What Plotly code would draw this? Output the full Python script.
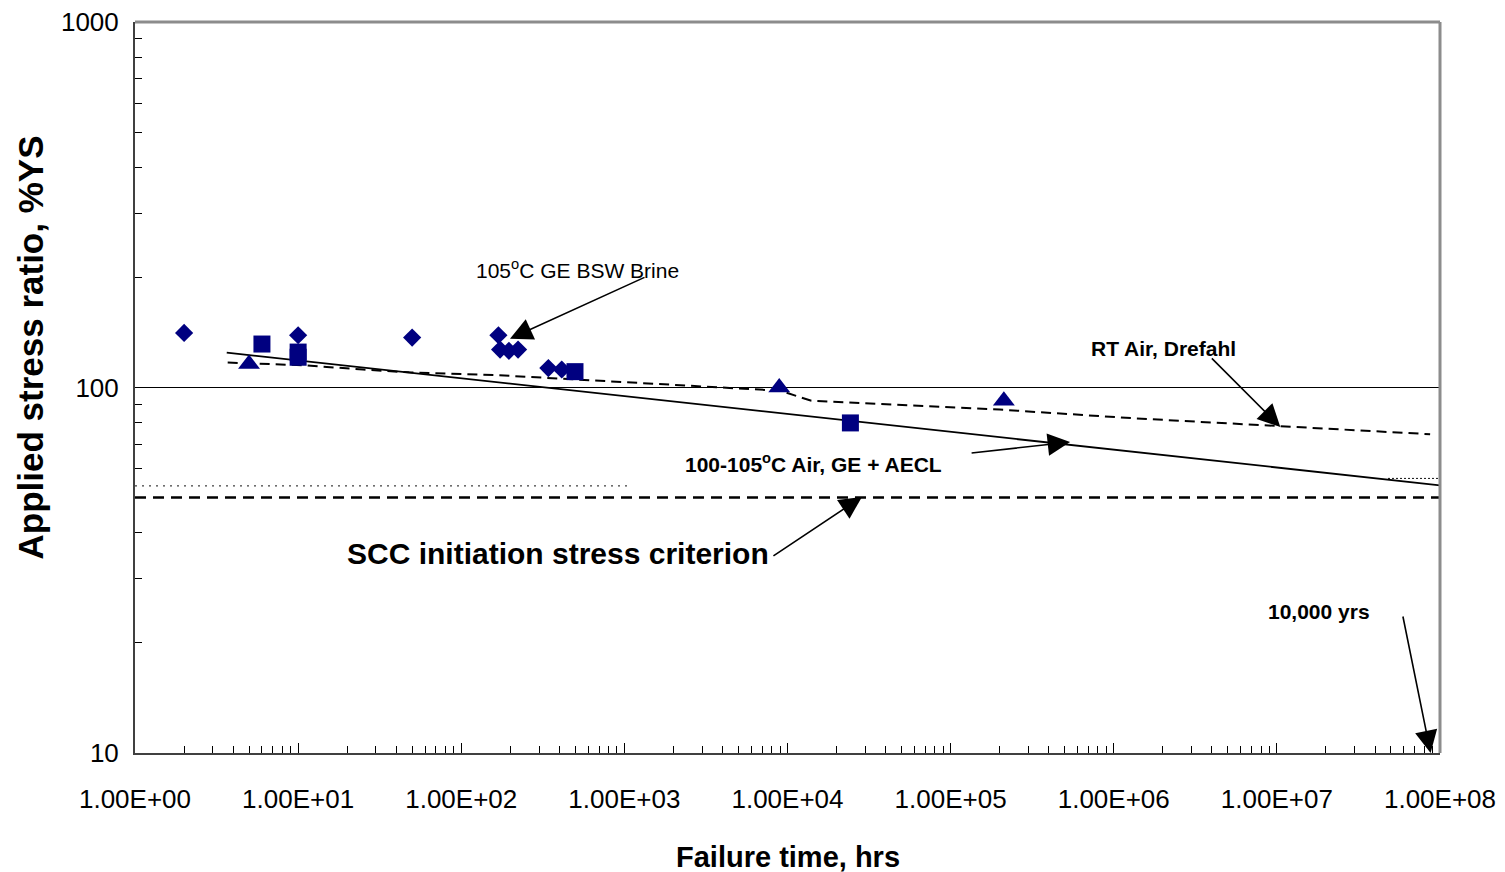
import math
import plotly.graph_objects as go

# ---- data -----------------------------------------------------------------
# 105 C GE BSW brine tests (diamonds)
brine_t = [2, 10, 50, 169, 173, 196, 223, 342, 413]
brine_y = [141, 139, 137, 139, 127, 126, 127, 113, 112]

# GE air tests (squares)
ge_air_t = [6, 10, 10, 498, 24300]
ge_air_y = [131.5, 125, 121, 110.5, 80]

# AECL air tests (triangles)
aecl_air_t = [5, 8900, 212000]
aecl_air_y = [116, 100, 92]

# 100-105 C air fit, GE + AECL (power-law line)
fit_t = [3.65, 1e8]
fit_y = [124.5, 54]

# RT air curve, Drefahl
rt_t = [3.7, 11, 25, 48, 170, 1100, 9000, 14000, 2.0e5, 1.31e6, 1.05e7, 8.7e7]
rt_y = [117, 115, 112, 110, 108, 103, 98, 92, 87, 82.4, 78.5, 74.5]

# SCC initiation stress criterion
scc_t = [1, 1e8]
scc_y = [50, 50]

# faint dotted guide segments
dot1_t = [1, 1100]
dot1_y = [53.8, 53.8]
dot2_t = [4.8e7, 1e8]
dot2_y = [56.4, 56.4]

x_ticks = [10 ** k for k in range(0, 9)]
x_ticktext = ["1.00E+%02d" % k for k in range(0, 9)]
y_ticks = [10, 100, 1000]
y_ticktext = ["10", "100", "1000"]

x_minor = [m * 10 ** k for k in range(0, 8) for m in range(2, 10)]
y_minor = [m * 10 ** k for k in range(1, 3) for m in range(2, 10)]

NAVY = "#000080"
FONT = "Liberation Sans, Arial, sans-serif"

fig = go.Figure()

fig.add_trace(go.Scatter(x=dot1_t, y=dot1_y, mode="lines",
                         line=dict(color="#111111", width=1, dash="2px,5px"),
                         showlegend=False, hoverinfo="skip"))
fig.add_trace(go.Scatter(x=dot2_t, y=dot2_y, mode="lines",
                         line=dict(color="#111111", width=1, dash="2px,2px"),
                         showlegend=False, hoverinfo="skip"))

fig.add_trace(go.Scatter(x=scc_t, y=scc_y, mode="lines", name="SCC criterion",
                         line=dict(color="black", width=2.5, dash="11px,7px")))
fig.add_trace(go.Scatter(x=rt_t, y=rt_y, mode="lines", name="RT Air, Drefahl",
                         line=dict(color="black", width=2, dash="10px,6px")))
fig.add_trace(go.Scatter(x=fit_t, y=fit_y, mode="lines", name="100-105C Air fit",
                         line=dict(color="black", width=1.8)))

fig.add_trace(go.Scatter(x=brine_t, y=brine_y, mode="markers", name="105C GE BSW Brine",
                         marker=dict(symbol="diamond", size=14, color=NAVY,
                                     line=dict(width=0))))
fig.add_trace(go.Scatter(x=ge_air_t, y=ge_air_y, mode="markers", name="GE Air",
                         marker=dict(symbol="square", size=17, color=NAVY,
                                     line=dict(width=0))))
fig.add_trace(go.Scatter(x=aecl_air_t, y=aecl_air_y, mode="markers", name="AECL Air",
                         marker=dict(symbol="triangle-up", size=19, color=NAVY,
                                     line=dict(width=0))))

L = math.log10

def label(text, lx, ly, size, bold=True):
    fig.add_annotation(x=lx, y=ly, xref="x", yref="y", text=text, showarrow=False,
                       xanchor="center", yanchor="middle",
                       font=dict(family=FONT, size=size, color="black",
                                 weight="bold" if bold else "normal"))

def arrow(t, v, ax, ay):
    fig.add_annotation(x=L(t), y=L(v), xref="x", yref="y", text="", showarrow=True,
                       ax=ax, ay=ay, arrowhead=2, arrowsize=2.8, arrowwidth=1.6,
                       arrowcolor="black", standoff=0)

# labels with pointer arrows
label("105<sup>o</sup>C GE BSW Brine", 2.713, 2.324, 21, bold=False)
arrow(199, 136, 136, -62)

label("RT Air, Drefahl", 6.302, 2.108, 21)
arrow(1.05e7, 78, -70, -70)

label("100-105<sup>o</sup>C Air, GE + AECL", 4.162, 1.793, 21)
arrow(5.4e5, 70.9, -100, 11)

label("SCC initiation stress criterion", 2.593, 1.547, 30)
arrow(28600, 50.2, -90, 60)

label("10,000 yrs", 7.258, 1.388, 21)
arrow(8.76e7, 10, -28, -138)

# axis titles
fig.add_annotation(xref="paper", yref="paper", x=0.5, y=-0.1423,
                   xanchor="center", yanchor="middle",
                   text="Failure time, hrs", showarrow=False,
                   font=dict(family=FONT, size=29, color="black", weight="bold"))
fig.add_annotation(xref="paper", yref="paper", x=-0.0797, y=0.5547, textangle=-90,
                   xanchor="center", yanchor="middle",
                   text="Applied stress ratio, %YS", showarrow=False,
                   font=dict(family=FONT, size=35, color="black", weight="bold"))

# grey frame on top and right
fig.add_shape(type="line", xref="paper", yref="paper", x0=0, x1=1, y0=1, y1=1,
              line=dict(color="#8c8c8c", width=3))
fig.add_shape(type="line", xref="paper", yref="paper", x0=1, x1=1, y0=0, y1=1,
              line=dict(color="#8c8c8c", width=3))

fig.update_xaxes(type="log", range=[0, 8], tickmode="array", tickvals=x_ticks,
                 ticktext=x_ticktext, ticks="inside", ticklen=10, tickwidth=1,
                 tickcolor="black", showgrid=False, zeroline=False,
                 showline=True, linecolor="#404040", linewidth=2,
                 ticklabelstandoff=22, automargin=False,
                 tickfont=dict(family=FONT, size=26, color="black"),
                 minor=dict(tickmode="array", tickvals=x_minor, ticks="inside",
                            ticklen=7, tickcolor="black", tickwidth=1, showgrid=False))
fig.update_yaxes(type="log", range=[1, 3], tickmode="array", tickvals=y_ticks,
                 ticktext=y_ticktext, ticks="inside", ticklen=10, tickwidth=1,
                 tickcolor="black", showgrid=True, gridcolor="black", gridwidth=1,
                 zeroline=False, showline=True, linecolor="#404040", linewidth=2,
                 ticklabelstandoff=9, automargin=False,
                 tickfont=dict(family=FONT, size=26, color="black"),
                 minor=dict(tickmode="array", tickvals=y_minor, ticks="inside",
                            ticklen=7, tickcolor="black", tickwidth=1, showgrid=False))

fig.update_layout(width=1505, height=872, autosize=False,
                  margin=dict(l=135, r=65, t=22, b=119),
                  plot_bgcolor="white", paper_bgcolor="white",
                  showlegend=False)

fig.write_html("out.html")
